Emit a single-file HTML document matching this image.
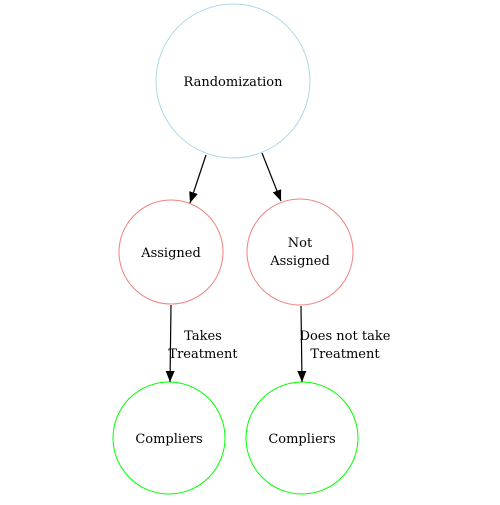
<!DOCTYPE html>
<html><head><style>body{margin:0;background:#fff}</style></head><body>
<svg width="500" height="500" xmlns="http://www.w3.org/2000/svg" font-family="DejaVu Serif, serif" font-size="13" text-anchor="middle">
<defs><marker id="a" markerWidth="12" markerHeight="12" refX="11" refY="5" orient="auto" markerUnits="userSpaceOnUse"><path d="M0,0.5 L11,5 L0,9.5 Z" fill="#000"/></marker></defs>
<circle cx="233" cy="81" r="77" fill="none" stroke="#add8e6"/>
<text x="233" y="86">Randomization</text>
<circle cx="171" cy="252" r="52" fill="none" stroke="#f08080"/>
<text x="171" y="257">Assigned</text>
<circle cx="300" cy="252" r="53" fill="none" stroke="#f08080"/>
<text x="300" y="247">Not</text><text x="300" y="265">Assigned</text>
<circle cx="169" cy="438" r="56" fill="none" stroke="#00ff00"/>
<text x="169" y="443">Compliers</text>
<circle cx="302" cy="438" r="56" fill="none" stroke="#00ff00"/>
<text x="302" y="443">Compliers</text>
<g stroke="#000" stroke-width="1.2">
<line x1="206" y1="155" x2="190" y2="203" marker-end="url(#a)"/>
<line x1="262" y1="153" x2="281" y2="201" marker-end="url(#a)"/>
<line x1="171" y1="305" x2="170" y2="382" marker-end="url(#a)"/>
<line x1="301" y1="306" x2="302" y2="382" marker-end="url(#a)"/>
</g>
<text x="203" y="340">Takes</text><text x="203" y="358">Treatment</text>
<text x="345" y="340">Does not take</text><text x="345" y="358">Treatment</text>
</svg>
</body></html>
